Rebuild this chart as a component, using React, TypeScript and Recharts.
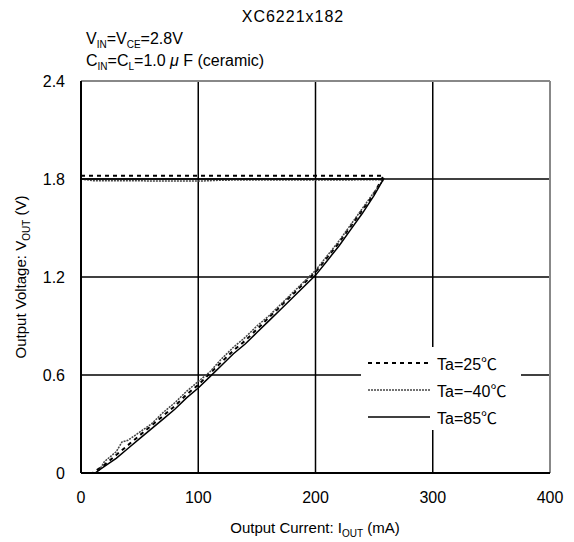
import React from 'react';
import {
  LineChart,
  Line,
  XAxis,
  YAxis,
  CartesianGrid,
  ReferenceLine,
} from 'recharts';

// flat (regulating) part then the foldback back down to 0 V
const current25 = [0, 100, 200, 258, 250, 240, 230, 220, 210, 200, 190, 180, 170, 160, 150, 140, 130, 120, 110, 100, 90, 80, 70, 60, 50, 40, 30, 20, 10];
const vout25 = [1.82, 1.82, 1.82, 1.82, 1.71, 1.61, 1.51, 1.41, 1.32, 1.23, 1.16, 1.09, 1.02, 0.95, 0.88, 0.81, 0.75, 0.68, 0.61, 0.54, 0.48, 0.41, 0.35, 0.29, 0.23, 0.17, 0.11, 0.05, 0];

const currentM40 = [0, 10, 100, 120, 258, 250, 240, 230, 220, 210, 200, 190, 180, 170, 160, 150, 140, 130, 120, 110, 100, 90, 80, 70, 60, 50, 40, 35, 30, 20, 14];
const voutM40 = [1.8, 1.79, 1.787, 1.793, 1.795, 1.72, 1.62, 1.52, 1.42, 1.33, 1.24, 1.17, 1.1, 1.03, 0.96, 0.9, 0.83, 0.77, 0.7, 0.62, 0.56, 0.5, 0.43, 0.37, 0.3, 0.25, 0.2, 0.19, 0.13, 0.07, 0];

const current85 = [0, 100, 200, 258, 250, 240, 230, 220, 210, 200, 190, 180, 170, 160, 150, 140, 130, 120, 110, 100, 90, 80, 70, 60, 50, 40, 30, 20, 12];
const vout85 = [1.8, 1.8, 1.8, 1.8, 1.7, 1.59, 1.49, 1.39, 1.3, 1.21, 1.14, 1.07, 1.0, 0.93, 0.86, 0.79, 0.73, 0.66, 0.59, 0.52, 0.46, 0.39, 0.33, 0.27, 0.21, 0.15, 0.09, 0.04, 0];

const xTicks = [0, 100, 200, 300, 400];
const yTicks = [0, 0.6, 1.2, 1.8, 2.4];

const seriesNames = ['Ta=25℃', 'Ta=−40℃', 'Ta=85℃'];

const toRows = (xs: number[], ys: number[]) => xs.map((x, i) => ({ x, v: ys[i] }));

const FONT = "'Liberation Sans', 'Noto Sans CJK JP', sans-serif";

const styles = [
  { stroke: '#000', strokeWidth: 2, dash: '4 4' },
  { stroke: '#444', strokeWidth: 1.5, dash: '2 1' },
  { stroke: '#000', strokeWidth: 1.5, dash: undefined },
];

const Sub = ({ children }: { children: React.ReactNode }) => (
  <span style={{ fontSize: 10, position: 'relative', top: 4 }}>{children}</span>
);

const LegendBox = () => (
  <div
    style={{
      position: 'absolute',
      left: 361,
      top: 347,
      background: '#fff',
      width: 160,
      height: 83,
      fontFamily: FONT,
      fontSize: 16,
    }}
  >
    {seriesNames.map((name, i) => (
      <div key={name} style={{ position: 'absolute', left: 0, top: 16 + i * 27 - 10, height: 20, display: 'flex', alignItems: 'center' }}>
        <svg width={76} height={20}>
          <line
            x1={7}
            x2={69}
            y1={10}
            y2={10}
            stroke={styles[i].stroke}
            strokeWidth={styles[i].strokeWidth}
            strokeDasharray={styles[i].dash}
          />
        </svg>
        <span style={{ color: '#000', whiteSpace: 'nowrap' }}>{name}</span>
      </div>
    ))}
  </div>
);

export default function App() {
  const data25 = toRows(current25, vout25);
  const dataM40 = toRows(currentM40, voutM40);
  const data85 = toRows(current85, vout85);
  const datasets = [data25, dataM40, data85];

  return (
    <div style={{ position: 'absolute', left: 0, top: 0, width: 574, height: 542, background: '#fff', fontFamily: FONT, color: '#000' }}>
      <div style={{ position: 'absolute', left: 0, width: 586, top: 8, textAlign: 'center', fontSize: 16, letterSpacing: 1 }}>
        XC6221x182
      </div>
      <div style={{ position: 'absolute', left: 86, top: 30, fontSize: 16, whiteSpace: 'nowrap' }}>
        V<Sub>IN</Sub>=V<Sub>CE</Sub>=2.8V
      </div>
      <div style={{ position: 'absolute', left: 86, top: 52, fontSize: 16, whiteSpace: 'nowrap' }}>
        C<Sub>IN</Sub>=C<Sub>L</Sub>=1.0 <i>μ</i> F (ceramic)
      </div>
      <div
        style={{
          position: 'absolute',
          left: 20,
          top: 277,
          fontSize: 15,
          whiteSpace: 'nowrap',
          transform: 'translate(-50%, -50%) rotate(-90deg)',
        }}
      >
        Output Voltage: V<Sub>OUT</Sub> (V)
      </div>
      <div style={{ position: 'absolute', left: 0, width: 630, top: 519, textAlign: 'center', fontSize: 15, whiteSpace: 'nowrap' }}>
        Output Current: I<Sub>OUT</Sub> (mA)
      </div>

      <LineChart width={574} height={542} margin={{ top: 81, right: 24, bottom: 29, left: 21 }}>
        <CartesianGrid stroke="#000" strokeWidth={1.5} />
        <XAxis
          type="number"
          dataKey="x"
          domain={[0, 400]}
          ticks={xTicks}
          allowDuplicatedCategory={false}
          height={40}
          tickSize={0}
          tickMargin={19}
          axisLine={{ stroke: '#000', strokeWidth: 2 }}
          tick={{ fill: '#000', fontSize: 16, fontFamily: FONT }}
        />
        <YAxis
          type="number"
          dataKey="v"
          domain={[0, 2.4]}
          ticks={yTicks}
          width={60}
          tickSize={0}
          tickMargin={16}
          axisLine={{ stroke: '#000', strokeWidth: 2 }}
          tick={{ fill: '#000', fontSize: 16, fontFamily: FONT }}
          tickFormatter={(v: number) => (v === 0 ? '0' : v.toFixed(1))}
        />
        <ReferenceLine y={2.4} stroke="#888" strokeWidth={2} />
        <ReferenceLine x={400} stroke="#888" strokeWidth={2} />
        {datasets.map((d, i) => (
          <Line
            key={seriesNames[i]}
            data={d}
            dataKey="v"
            name={seriesNames[i]}
            type="linear"
            stroke={styles[i].stroke}
            strokeWidth={styles[i].strokeWidth}
            strokeDasharray={styles[i].dash}
            dot={false}
            isAnimationActive={false}
          />
        ))}
      </LineChart>
      <LegendBox />
    </div>
  );
}
